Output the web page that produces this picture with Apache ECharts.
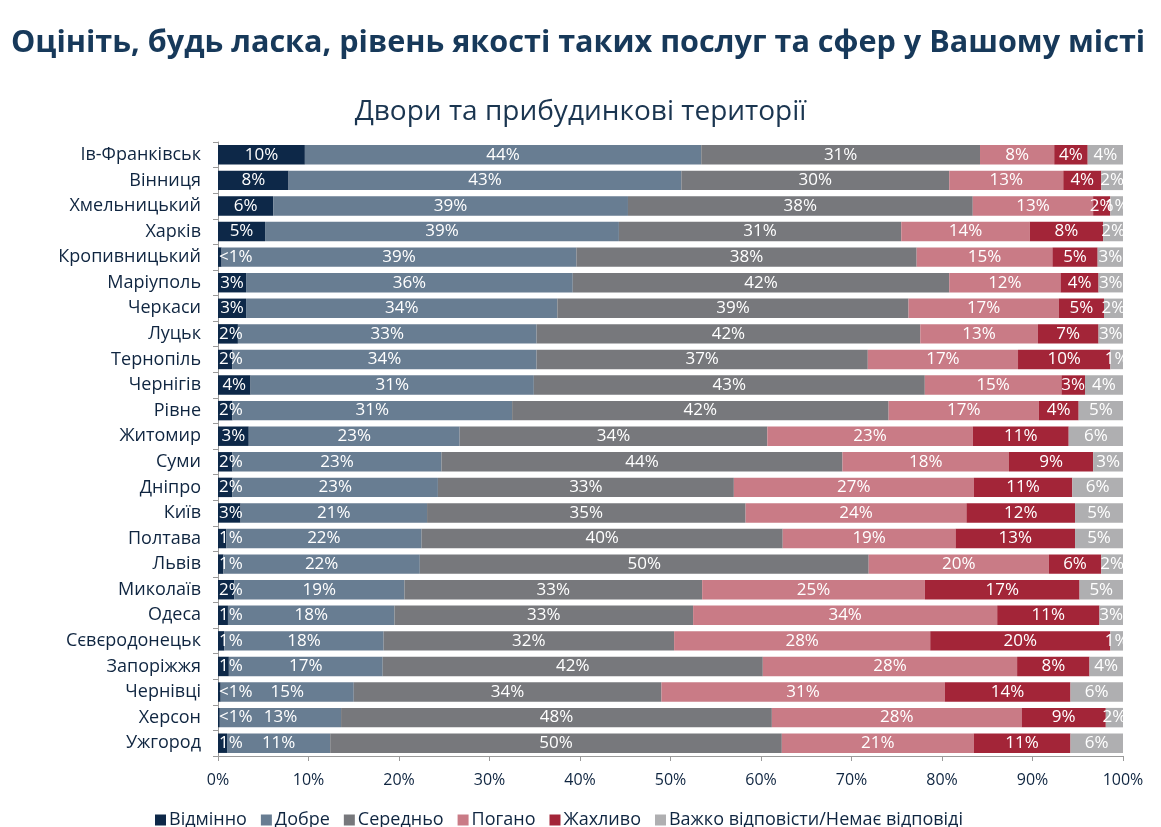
<!DOCTYPE html>
<html><head><meta charset="utf-8">
<script src="https://cdn.jsdelivr.net/npm/echarts@6/dist/echarts.min.js"></script>
<style>html,body{margin:0;padding:0;background:#fff}#c{width:1161px;height:827px}</style>
</head><body><div id="c"></div>
<script>
const cities = ["Ів-Франківськ","Вінниця","Хмельницький","Харків","Кропивницький","Маріуполь","Черкаси","Луцьк","Тернопіль","Чернігів","Рівне","Житомир","Суми","Дніпро","Київ","Полтава","Львів","Миколаїв","Одеса","Сєвєродонецьк","Запоріжжя","Чернівці","Херсон","Ужгород"];
const seriesNames = ["Відмінно","Добре","Середньо","Погано","Жахливо","Важко відповісти/Немає відповіді"];
const excellent = [9.6,7.8,6.1,5.2,0.4,3.1,3.1,2.2,1.6,3.6,1.6,3.4,1.6,1.6,2.5,0.9,0.6,1.8,1.1,0.7,1.2,0.3,0.2,1.0];
const good      = [43.8,43.4,39.2,39.1,39.2,36.1,34.4,33.0,33.6,31.3,30.9,23.3,23.1,22.7,20.6,21.6,21.7,18.8,18.4,17.6,17.0,14.7,13.4,11.4];
const average   = [30.8,29.6,38.1,31.2,37.6,41.6,38.8,42.4,36.6,43.2,41.6,34.0,44.3,32.7,35.2,39.9,49.6,32.9,33.0,32.1,42.0,34.0,47.6,49.9];
const bad       = [8.2,12.6,13.3,14.2,15.0,12.3,16.6,13.0,16.6,15.1,16.6,22.7,18.4,26.5,24.4,19.1,19.9,24.6,33.6,28.3,28.1,31.3,27.6,21.2];
const terrible  = [3.7,4.2,1.9,8.1,5.0,4.2,5.0,6.7,10.2,2.6,4.4,10.6,9.3,10.9,12.0,13.2,5.8,17.1,11.3,19.9,8.0,13.9,9.3,10.7];
const noAnswer  = [3.9,2.4,1.4,2.2,2.8,2.7,2.1,2.7,1.4,4.2,4.9,6.0,3.3,5.6,5.3,5.3,2.4,4.8,2.6,1.4,3.7,5.8,1.9,5.8];
const xTicks = [0,10,20,30,40,50,60,70,80,90,100];

const colors = ["#0d2848","#687d92","#77787c","#c97b86","#a32538","#afafb1"];
const dataSets = [excellent, good, average, bad, terrible, noAnswer];
const FONT = "'Open Sans', 'Noto Sans', sans-serif";
const navy = "#0f2540";

const chart = echarts.init(document.getElementById('c'));
chart.setOption({
  animation:false,
  textStyle:{fontFamily:FONT},
  title:[
    {text:"Оцініть, будь ласка, рівень якості таких послуг та сфер у Вашому місті",left:6,top:23,
     textStyle:{fontFamily:FONT,fontWeight:'bold',fontSize:30.6,color:"#17395a"}},
    {text:"Двори та прибудинкові території",left:'center',top:93,
     textStyle:{fontFamily:FONT,fontWeight:'normal',fontSize:28,color:"#1a3550"}}
  ],
  legend:{top:806,left:150,itemWidth:11,itemHeight:11,itemGap:14,icon:'rect',
    textStyle:{fontFamily:FONT,fontSize:18,color:navy,padding:[0,0,0,-2]},
    data:seriesNames},
  grid:{left:218,right:38,top:142,bottom:71,containLabel:false},
  xAxis:{type:'value',min:0,max:100,interval:10,
    axisLine:{show:true,lineStyle:{color:'#9a9a9a'}},
    axisTick:{show:true,length:5,lineStyle:{color:'#9a9a9a'}},
    splitLine:{show:false},
    axisLabel:{margin:16,fontSize:16,color:navy,fontFamily:FONT,formatter:v=>v+'%'}},
  yAxis:{type:'category',data:cities,inverse:true,
    axisLine:{show:true,lineStyle:{color:'#9a9a9a'}},
    axisTick:{show:true,length:5,lineStyle:{color:'#9a9a9a'}},
    axisLabel:{margin:17,fontSize:18,color:navy,fontFamily:FONT}},
  series: seriesNames.map((n,i)=>({
    name:n,type:'bar',stack:'all',barWidth:'76%',
    itemStyle:{color:colors[i]},
    label:{show:true,position:'inside',color:'#fff',fontSize:17,fontFamily:FONT,
      formatter:p=> p.value<0.5 ? '<1%' : Math.round(p.value)+'%'},
    labelLayout:{hideOverlap:false},
    data: i===0 ? dataSets[i].map(v => v<3 ? {value:v,label:{position:'insideLeft',distance:1}} : v) : dataSets[i]
  }))
});
</script></body></html>
